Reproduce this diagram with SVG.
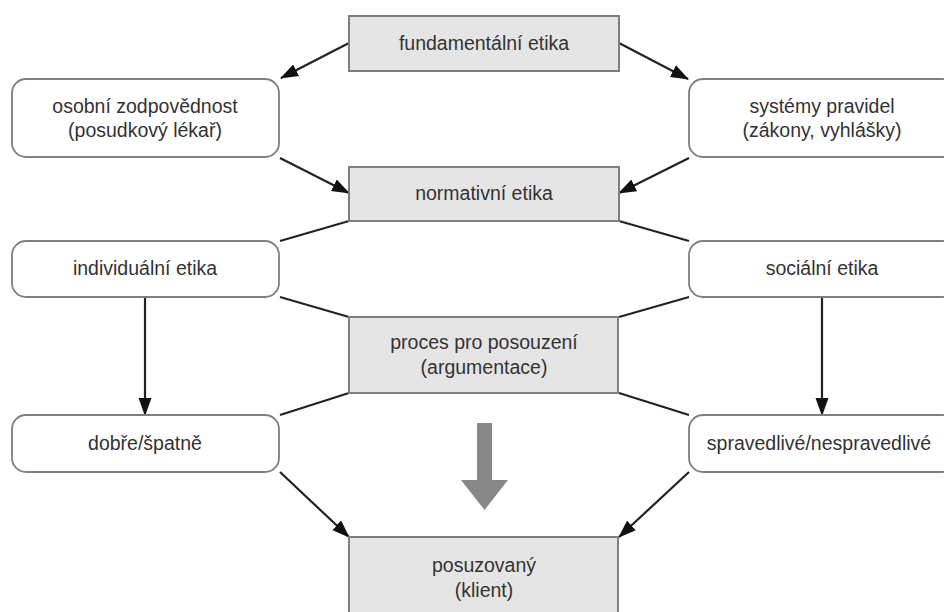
<svg xmlns="http://www.w3.org/2000/svg" width="944" height="612" viewBox="0 0 944 612">
<style>
.c{fill:#e5e5e5;stroke:#7f7f7f;stroke-width:2}
.r{fill:#fff;stroke:#7f7f7f;stroke-width:1.8}
.t{font-family:"Liberation Sans",Arial,sans-serif;font-size:19.5px;fill:#333;text-anchor:middle;dominant-baseline:central}
.l{stroke:#222;stroke-width:2.2;fill:none}
.a{stroke:#222;stroke-width:2.2;fill:none;marker-end:url(#ah)}
</style>
<defs>
<marker id="ah" markerUnits="userSpaceOnUse" markerWidth="18" markerHeight="14" refX="17" refY="6.5" orient="auto" viewBox="0 0 18 13">
<path d="M0,0 L18,6.5 L0,13 z" fill="#111"/>
</marker>
</defs>
<rect width="944" height="612" fill="#fff"/>
<g id="connectors">
<line class="a" x1="349" y1="43" x2="281" y2="78"/>
<line class="a" x1="619" y1="43" x2="688" y2="79"/>
<line class="a" x1="280" y1="158" x2="349" y2="193"/>
<line class="a" x1="689" y1="158" x2="619" y2="193"/>
<line class="l" x1="349" y1="221" x2="280" y2="241"/>
<line class="l" x1="619" y1="221" x2="689" y2="241"/>
<line class="l" x1="280" y1="297" x2="349" y2="317"/>
<line class="l" x1="689" y1="297" x2="619" y2="317"/>
<line class="l" x1="349" y1="393" x2="280" y2="415"/>
<line class="l" x1="619" y1="393" x2="689" y2="415"/>
<line class="a" x1="145" y1="297" x2="145" y2="415"/>
<line class="a" x1="822" y1="297" x2="822" y2="415"/>
<line class="a" x1="280" y1="472" x2="349" y2="537"/>
<line class="a" x1="689" y1="472" x2="619" y2="537"/>
<path d="M477,423 H492 V480 H508 L484.5,510 L461,480 H477 Z" fill="#888"/>
</g>
<g id="fundamentalni">
<rect class="c" x="349" y="16" width="270" height="55"/>
<text class="t" x="484" y="43">fundamentální etika</text>
</g>
<g id="osobni">
<rect class="r" x="12" y="79" width="267" height="78" rx="14"/>
<text class="t" x="145" y="106">osobní zodpovědnost</text>
<text class="t" x="145" y="130">(posudkový lékař)</text>
</g>
<g id="systemy">
<rect class="r" x="689" y="79" width="267" height="78" rx="14"/>
<text class="t" x="822" y="106">systémy pravidel</text>
<text class="t" x="822" y="130">(zákony, vyhlášky)</text>
</g>
<g id="normativni">
<rect class="c" x="349" y="167" width="270" height="54"/>
<text class="t" x="484" y="193">normativní etika</text>
</g>
<g id="individualni">
<rect class="r" x="12" y="241" width="267" height="56" rx="14"/>
<text class="t" x="145" y="268">individuální etika</text>
</g>
<g id="socialni">
<rect class="r" x="689" y="241" width="267" height="56" rx="14"/>
<text class="t" x="822" y="268">sociální etika</text>
</g>
<g id="proces">
<rect class="c" x="349" y="317" width="269" height="76"/>
<text class="t" x="484" y="342">proces pro posouzení</text>
<text class="t" x="484" y="367">(argumentace)</text>
</g>
<g id="dobre">
<rect class="r" x="12" y="415" width="267" height="57" rx="14"/>
<text class="t" x="145" y="443">dobře/špatně</text>
</g>
<g id="spravedlive">
<rect class="r" x="689" y="415" width="267" height="57" rx="14"/>
<text class="t" x="819" y="443">spravedlivé/nespravedlivé</text>
</g>
<g id="posuzovany">
<rect class="c" x="349" y="537" width="269" height="90"/>
<text class="t" x="484" y="565">posuzovaný</text>
<text class="t" x="484" y="590">(klient)</text>
</g>
</svg>
